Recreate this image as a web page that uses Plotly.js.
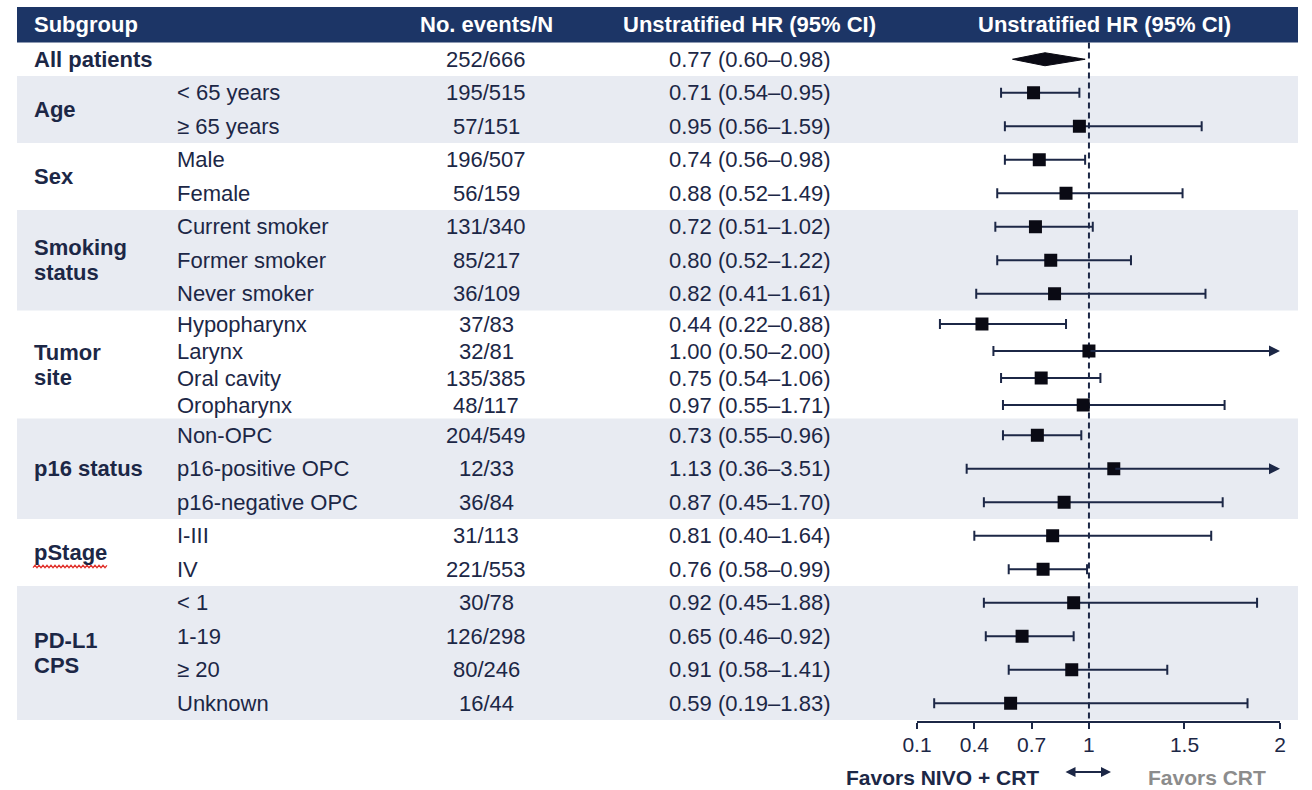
<!DOCTYPE html>
<html>
<head>
<meta charset="utf-8">
<script src="https://cdn.plot.ly/plotly-3.0.1.min.js"></script>
<style>
  html, body { margin: 0; padding: 0; background: #ffffff; }
  #chart { width: 1312px; height: 790px; }
</style>
</head>
<body>
<div id="chart"></div>
<script>
// ---- data ----
const groups = ['All patients', 'Age', 'Sex', 'Smoking<br>status', 'Tumor<br>site', 'p16 status', 'pStage', 'PD-L1<br>CPS'];
const rowGroup = [0, 1, 1, 2, 2, 3, 3, 3, 4, 4, 4, 4, 5, 5, 5, 6, 6, 7, 7, 7, 7];
const subgroups = ['', '< 65 years', '≥ 65 years', 'Male', 'Female',
  'Current smoker', 'Former smoker', 'Never smoker',
  'Hypopharynx', 'Larynx', 'Oral cavity', 'Oropharynx',
  'Non-OPC', 'p16-positive OPC', 'p16-negative OPC',
  'I-III', 'IV', '< 1', '1-19', '≥ 20', 'Unknown'];
const events = [252, 195, 57, 196, 56, 131, 85, 36, 37, 32, 135, 48, 204, 12, 36, 31, 221, 30, 126, 80, 16];
const totals = [666, 515, 151, 507, 159, 340, 217, 109, 83, 81, 385, 117, 549, 33, 84, 113, 553, 78, 298, 246, 44];
const hr    = [0.77, 0.71, 0.95, 0.74, 0.88, 0.72, 0.80, 0.82, 0.44, 1.00, 0.75, 0.97, 0.73, 1.13, 0.87, 0.81, 0.76, 0.92, 0.65, 0.91, 0.59];
const lower = [0.60, 0.54, 0.56, 0.56, 0.52, 0.51, 0.52, 0.41, 0.22, 0.50, 0.54, 0.55, 0.55, 0.36, 0.45, 0.40, 0.58, 0.45, 0.46, 0.58, 0.19];
const upper = [0.98, 0.95, 1.59, 0.98, 1.49, 1.02, 1.22, 1.61, 0.88, 2.00, 1.06, 1.71, 0.96, 3.51, 1.70, 1.64, 0.99, 1.88, 0.92, 1.41, 1.83];
const tickVals = [0.1, 0.4, 0.7, 1, 1.5, 2];
const headers = ['Subgroup', 'No. events/N', 'Unstratified HR (95% CI)', 'Unstratified HR (95% CI)'];
const favorsLabels = ['Favors NIVO + CRT', 'Favors CRT'];
const refLine = 1;

// ---- layout constants (pixels) ----
const W = 1312, H = 790;
const FONT = 'Liberation Sans, Arial, Helvetica, sans-serif';
const NAVY = '#1c3566';
const TEXT = '#1c2746';
const BAND = '#e8ebf2';
const MARK = '#0a0a14';
const TABLE_LEFT = 17, TABLE_RIGHT = 1298;
const HEADER_TOP = 7, HEADER_BOTTOM = 42.5;
const ROW_H = 33.5, COMPACT_ROW_H = 27;
const compactGroups = new Set([4]);
const AXIS_Y = 722;
const PLOT_LEFT = 917, PLOT_RIGHT = 1280;
const COL_GROUP = 32, COL_SUB = 175, COL_EVENTS = 486, COL_HR = 749, COL_PLOT_HEAD = 1104;
const LINE_GAP = 25;

const px = v => v / W;   // horizontal pixel -> paper fraction
const fmt = v => v.toFixed(2);
const xMin = tickVals[0], xMax = tickVals[tickVals.length - 1];

// row centres and group bands, stacked under the header
const rowY = [];
const bands = [];
let cursor = HEADER_BOTTOM;
groups.forEach((g, gi) => {
  const h = compactGroups.has(gi) ? COMPACT_ROW_H : ROW_H;
  const top = cursor;
  rowGroup.forEach((rg, i) => {
    if (rg === gi) { rowY[i] = cursor + h / 2; cursor += h; }
  });
  bands.push({ top: top, bottom: cursor });
});

// ---- shapes ----
const shapes = [];
// header bar
shapes.push({ type: 'rect', xref: 'paper', yref: 'y', x0: px(TABLE_LEFT), x1: px(TABLE_RIGHT),
  y0: HEADER_TOP, y1: HEADER_BOTTOM, fillcolor: NAVY, line: { width: 0 }, layer: 'below' });
// alternating group shading
bands.forEach((b, gi) => {
  if (gi % 2 === 1) {
    shapes.push({ type: 'rect', xref: 'paper', yref: 'y', x0: px(TABLE_LEFT), x1: px(TABLE_RIGHT),
      y0: b.top, y1: b.bottom, fillcolor: BAND, line: { width: 0 }, layer: 'below' });
  }
});
// no-effect reference line
shapes.push({ type: 'line', xref: 'x', yref: 'y', x0: refLine, x1: refLine, y0: HEADER_BOTTOM, y1: AXIS_Y,
  line: { color: TEXT, width: 2, dash: '6px,4px' }, layer: 'below' });

// ---- annotations ----
const annotations = [];
const txt = (text, xPix, y, opts) => Object.assign({
  text: text, xref: 'paper', yref: 'y', x: px(xPix), y: y, xanchor: 'left', yanchor: 'middle',
  align: 'left', showarrow: false, font: { family: FONT, size: 22, color: TEXT }
}, opts || {});

const headY = (HEADER_TOP + HEADER_BOTTOM) / 2;
const headFont = { family: FONT, size: 22, color: '#ffffff' };
annotations.push(txt('<b>' + headers[0] + '</b>', COL_GROUP, headY, { font: headFont }));
annotations.push(txt('<b>' + headers[1] + '</b>', COL_EVENTS, headY, { xanchor: 'center', font: headFont }));
annotations.push(txt('<b>' + headers[2] + '</b>', COL_HR, headY, { xanchor: 'center', font: headFont }));
annotations.push(txt('<b>' + headers[3] + '</b>', COL_PLOT_HEAD, headY, { xanchor: 'center', font: headFont }));

// group labels, one annotation per line so the line spacing stays tight
groups.forEach((g, gi) => {
  const b = bands[gi];
  const lines = g.split('<br>');
  const mid = (b.top + b.bottom) / 2;
  lines.forEach((ln, k) => {
    annotations.push(txt('<b>' + ln + '</b>', COL_GROUP, mid + (k - (lines.length - 1) / 2) * LINE_GAP));
  });
});

// per-row columns
subgroups.forEach((s, i) => {
  if (s) annotations.push(txt(s, COL_SUB, rowY[i]));
  annotations.push(txt(events[i] + '/' + totals[i], COL_EVENTS, rowY[i], { xanchor: 'center' }));
  annotations.push(txt(fmt(hr[i]) + ' (' + fmt(lower[i]) + '–' + fmt(upper[i]) + ')', COL_HR, rowY[i], { xanchor: 'center' }));
});

// off-scale intervals continue as arrows to the axis end
const inRange = [], offScale = [];
hr.forEach((v, i) => {
  if (i === 0) return;
  (upper[i] >= xMax ? offScale : inRange).push(i);
});
offScale.forEach(i => {
  annotations.push({ xref: 'x', yref: 'y', axref: 'x', ayref: 'y', x: xMax, y: rowY[i], ax: hr[i], ay: rowY[i],
    text: '', showarrow: true, arrowhead: 2, arrowsize: 1.1, arrowwidth: 2, arrowcolor: TEXT, standoff: -3 });
});

// favours labels under the axis
const favY = 777;
annotations.push(txt('<b>' + favorsLabels[0] + '</b>', 1041, favY, { xanchor: 'right', font: { family: FONT, size: 21, color: TEXT } }));
annotations.push(txt('<b>' + favorsLabels[1] + '</b>', 1207, favY, { xanchor: 'center', font: { family: FONT, size: 21, color: '#8c8c8c' } }));
annotations.push({ xref: 'paper', yref: 'y', x: px(1111), y: 772, ax: -47, ay: 0, text: '', showarrow: true,
  arrowside: 'end+start', arrowhead: 2, arrowsize: 1, arrowwidth: 2, arrowcolor: TEXT, standoff: 0 });

// red spell-check squiggle under "pStage"
(function () {
  const gi = 6, b = bands[gi];
  const yBase = (b.top + b.bottom) / 2 + 14;
  let d = '';
  for (let xp = COL_GROUP + 1, k = 0; xp <= COL_GROUP + 75; xp += 2, k++) {
    d += (k === 0 ? 'M' : 'L') + px(xp).toFixed(5) + ',' + (yBase + (k % 2 ? -1.2 : 1.2)).toFixed(2);
  }
  shapes.push({ type: 'path', xref: 'paper', yref: 'y', path: d, line: { color: '#e0302a', width: 1.2 } });
})();

// ---- traces ----
const pick = (arr, idx) => idx.map(i => arr[i]);
const traces = [];

// overall estimate as a diamond
const DH = 6.5;
traces.push({
  type: 'scatter', mode: 'lines', fill: 'toself', hoverinfo: 'skip',
  x: [lower[0], hr[0], upper[0], hr[0], lower[0]],
  y: [rowY[0], rowY[0] - DH, rowY[0], rowY[0] + DH, rowY[0]],
  line: { color: MARK, width: 1 }, fillcolor: MARK
});

// subgroup estimates with confidence intervals
traces.push({
  type: 'scatter', mode: 'markers',
  x: pick(hr, inRange), y: pick(rowY, inRange),
  marker: { symbol: 'square', size: 13, color: MARK },
  error_x: { type: 'data', symmetric: false,
    array: inRange.map(i => upper[i] - hr[i]), arrayminus: inRange.map(i => hr[i] - lower[i]),
    color: TEXT, thickness: 2, width: 5 }
});
traces.push({
  type: 'scatter', mode: 'markers',
  x: pick(hr, offScale), y: pick(rowY, offScale),
  marker: { symbol: 'square', size: 13, color: MARK },
  error_x: { type: 'data', symmetric: false,
    array: offScale.map(() => 0), arrayminus: offScale.map(i => hr[i] - lower[i]),
    color: TEXT, thickness: 2, width: 5 }
});

const layout = {
  width: W, height: H,
  margin: { l: 0, r: 0, t: 0, b: 0 },
  paper_bgcolor: '#ffffff', plot_bgcolor: 'rgba(0,0,0,0)',
  showlegend: false,
  xaxis: {
    domain: [px(PLOT_LEFT), px(PLOT_RIGHT)],
    range: [xMin, xMax], autorange: false,
    anchor: 'free', position: (H - AXIS_Y) / H,
    showline: true, linecolor: TEXT, linewidth: 2,
    ticks: 'outside', ticklen: 6, tickwidth: 2, tickcolor: TEXT,
    tickmode: 'array', tickvals: tickVals, ticktext: tickVals.map(String),
    tickfont: { family: FONT, size: 21, color: TEXT }, ticklabelstandoff: -2,
    showgrid: false, zeroline: false, fixedrange: true
  },
  yaxis: {
    domain: [0, 1], range: [H, 0], autorange: false,
    visible: false, showgrid: false, zeroline: false, fixedrange: true
  },
  shapes: shapes,
  annotations: annotations
};

Plotly.newPlot('chart', traces, layout, { displayModeBar: false, staticPlot: true });
</script>
</body>
</html>
